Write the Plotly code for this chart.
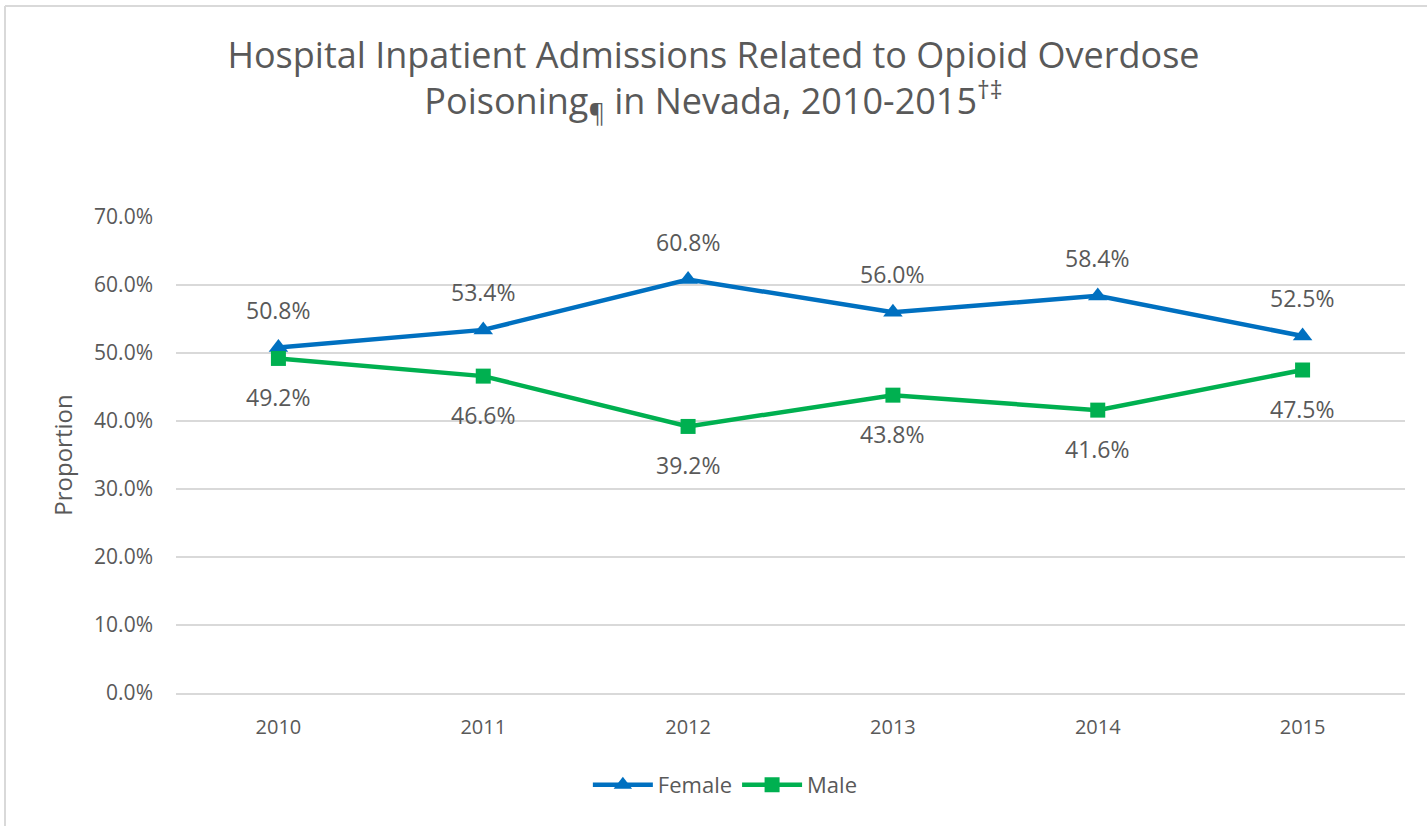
import plotly.graph_objects as go

years = ["2010", "2011", "2012", "2013", "2014", "2015"]
female = [50.8, 53.4, 60.8, 56.0, 58.4, 52.5]
male = [49.2, 46.6, 39.2, 43.8, 41.6, 47.5]
y_ticks = [0, 10, 20, 30, 40, 50, 60, 70]

FONT = "Open Sans"
GREY = "#595959"
BLUE = "#0070C0"
GREEN = "#00B050"

fig = go.Figure()
fig.add_trace(go.Scatter(x=years, y=female, name="Female", mode="lines+markers",
                         line=dict(color=BLUE, width=4.5),
                         marker=dict(symbol="triangle-up", size=17, color=BLUE)))
fig.add_trace(go.Scatter(x=years, y=male, name="Male", mode="lines+markers",
                         line=dict(color=GREEN, width=4.5),
                         marker=dict(symbol="square", size=15, color=GREEN)))

for i, yv in enumerate(female):
    fig.add_annotation(x=i, y=yv, text=f"{yv:.1f}%", showarrow=False, yshift=38,
                       font=dict(family=FONT, size=23, color=GREY))
for i, yv in enumerate(male):
    fig.add_annotation(x=i, y=yv, text=f"{yv:.1f}%", showarrow=False, yshift=-39,
                       font=dict(family=FONT, size=23, color=GREY))

L, R, T, B = 176, 22, 217, 133
W, H = 1427, 826
pw, ph = W - L - R, H - T - B
x_left = (5 - L) / pw
x_right = (W - L) / pw
y_top = (H - B - 6) / ph
y_bot = (H - B - H) / ph
border = dict(color="#d9d9d9", width=2)
fig.add_shape(type="line", xref="paper", yref="paper", x0=x_left, x1=x_left, y0=y_bot, y1=y_top, line=border)
fig.add_shape(type="line", xref="paper", yref="paper", x0=x_left, x1=x_right, y0=y_top, y1=y_top, line=border)

fig.update_layout(
    width=W, height=H,
    margin=dict(l=L, r=R, t=T, b=B),
    paper_bgcolor="white", plot_bgcolor="white",
    font=dict(family=FONT, color=GREY),
    title=dict(text="Hospital Inpatient Admissions Related to Opioid Overdose<br>Poisoning<sub>¶</sub> in Nevada, 2010-2015<sup>†‡</sup>",
               x=0.5, xanchor="center", y=1 - 67.5 / 826, yanchor="middle",
               font=dict(family=FONT, size=36, color=GREY)),
    xaxis=dict(type="category", range=[-0.5, 5.5], showgrid=False, showline=True,
               linecolor="#d9d9d9", linewidth=1.5, ticks="",
               tickfont=dict(family=FONT, size=20, color=GREY), ticklabelstandoff=15),
    yaxis=dict(range=[0, 70], tickvals=y_ticks, ticktext=[f"{v:.1f}%" for v in y_ticks],
               showgrid=True, gridcolor="#d9d9d9", gridwidth=1.5, zeroline=False,
               showline=False, ticks="", tickfont=dict(family=FONT, size=21, color=GREY),
               ticklabelstandoff=22,
               title=dict(text="Proportion", font=dict(family=FONT, size=24, color=GREY), standoff=14)),
    legend=dict(orientation="h", x=0.447, xanchor="center", y=-0.193, yanchor="middle",
                font=dict(family=FONT, size=22, color=GREY), itemwidth=60),
    showlegend=True,
)

fig.write_html("out.html", config={"displayModeBar": False},
               post_script="document.body.style.margin='0';document.body.style.overflow='hidden';")
